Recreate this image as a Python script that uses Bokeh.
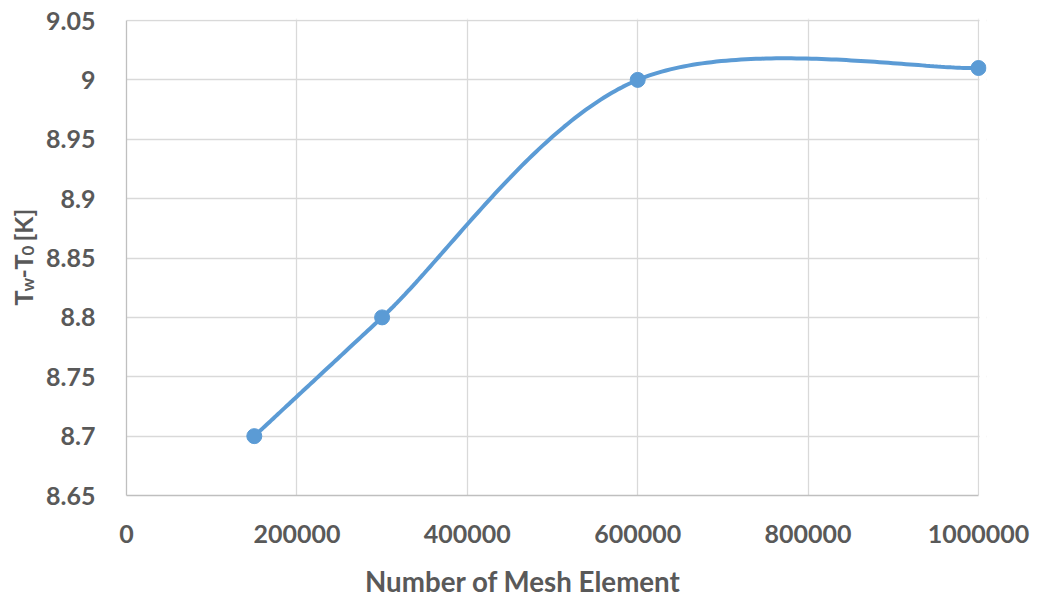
import math
import numpy as np
from bokeh.plotting import figure
from bokeh.layouts import row, column
from bokeh.models import (Range1d, FixedTicker, NumeralTickFormatter,
                          CustomJSTickFormatter, BoxAnnotation,
                          ColumnDataSource)
from bokeh.core.properties import value
from bokeh.embed import file_html
from bokeh.resources import INLINE

# Mesh independence study: wall-to-inlet temperature rise vs mesh size
mesh_elements = [150000, 300000, 600000, 1000000]
temp_rise = [8.70, 8.80, 9.00, 9.01]

x_ticks = [0, 200000, 400000, 600000, 800000, 1000000]
y_ticks = [8.65, 8.70, 8.75, 8.80, 8.85, 8.90, 8.95, 9.00, 9.05]

x_title = "Number of Mesh Element"
# y title pieces: text, subscript?, offset along the title (px)
y_title_text = ["T", "w", "-", "T", "0", "[K]"]
y_title_sub = [False, True, False, False, True, False]
y_title_offset = [0, 14, 27, 36, 50, 64]

X_START, X_END = 0, 1000000
Y_START, Y_END = 8.65, 9.05

TOTAL_W, TOTAL_H = 1041, 598
SIDE_W = 42                      # strip holding the rotated y title
BOTTOM_H = 40                    # strip holding the x title
PLOT_W_PX, PLOT_H_PX = 852, 475  # pixel size of the 0..1e6 x 8.65..9.05 box
PAD_R, PAD_T = 8, 2              # spare room so the last marker is not clipped
FRAME_LEFT, FRAME_TOP, FRAME_BOTTOM = 126, 20 - PAD_T, 495
MAIN_W = TOTAL_W - SIDE_W
MAIN_H = TOTAL_H - BOTTOM_H
BORDER_L = FRAME_LEFT - SIDE_W
BORDER_R = MAIN_W - BORDER_L - PLOT_W_PX - PAD_R

X_VIEW_END = X_END + (X_END - X_START) * PAD_R / PLOT_W_PX
Y_VIEW_END = Y_END + (Y_END - Y_START) * PAD_T / PLOT_H_PX

TEXT = "#595959"
GRID = "#d9d9d9"
AXIS = "#bfbfbf"
BLUE = "#5b9bd5"
FONT = "Lato"


def smooth_curve(xs, ys, n=80):
    """Bezier smoothing done in screen space (tangent = (next - prev) / 6,
    arm capped at half the segment), mapped back to data units."""
    sx = [(x - X_START) / (X_END - X_START) * PLOT_W_PX for x in xs]
    sy = [(y - Y_START) / (Y_END - Y_START) * PLOT_H_PX for y in ys]
    pts = np.array(list(zip(sx, sy)), dtype=float)
    k = len(pts)
    out = []
    for i in range(k - 1):
        p0 = pts[max(i - 1, 0)]
        p1 = pts[i]
        p2 = pts[i + 1]
        p3 = pts[min(i + 2, k - 1)]
        seg = np.linalg.norm(p2 - p1)
        arms = []
        for t in ((p2 - p0) / 6.0, (p3 - p1) / 6.0):
            L = np.linalg.norm(t)
            if L > seg / 2:
                t = t * (seg / 2) / L
            arms.append(t)
        c1 = p1 + arms[0]
        c2 = p2 - arms[1]
        t = np.linspace(0, 1, n)[:, None]
        b = ((1 - t) ** 3) * p1 + 3 * ((1 - t) ** 2) * t * c1 \
            + 3 * (1 - t) * t ** 2 * c2 + t ** 3 * p2
        if i > 0:
            b = b[1:]
        out.append(b)
    curve = np.vstack(out)
    cx = X_START + curve[:, 0] / PLOT_W_PX * (X_END - X_START)
    cy = Y_START + curve[:, 1] / PLOT_H_PX * (Y_END - Y_START)
    return cx, cy


def strip(width, height, **kw):
    f = figure(width=width, height=height, output_backend="svg",
               toolbar_location=None, x_axis_location=None,
               y_axis_location=None, **kw)
    f.grid.visible = False
    f.outline_line_color = None
    f.background_fill_color = "white"
    f.border_fill_color = "white"
    return f


# ---- main chart ----
p = figure(width=MAIN_W, height=MAIN_H, output_backend="svg",
           toolbar_location=None,
           x_range=Range1d(X_START, X_VIEW_END),
           y_range=Range1d(Y_START, Y_VIEW_END),
           min_border_left=BORDER_L, min_border_right=BORDER_R,
           min_border_top=FRAME_TOP, min_border_bottom=MAIN_H - FRAME_BOTTOM)
p.outline_line_color = None
p.background_fill_color = "white"
p.border_fill_color = "white"

p.xgrid.ticker = FixedTicker(ticks=x_ticks)
p.ygrid.ticker = FixedTicker(ticks=y_ticks)
for g in (p.xgrid, p.ygrid):
    g.grid_line_color = GRID
    g.grid_line_width = 1.3

# keep the grid inside the 0..1e6 x 8.65..9.05 box
eps_x = (X_END - X_START) * 1.0 / PLOT_W_PX
eps_y = (Y_END - Y_START) * 1.0 / PLOT_H_PX
p.add_layout(BoxAnnotation(left=X_END + eps_x, fill_color="white",
                           fill_alpha=1, line_color=None, level="underlay"))
p.add_layout(BoxAnnotation(bottom=Y_END + eps_y, fill_color="white",
                           fill_alpha=1, line_color=None, level="underlay"))

p.xaxis.ticker = FixedTicker(ticks=x_ticks)
p.yaxis.ticker = FixedTicker(ticks=y_ticks)
p.xaxis.formatter = NumeralTickFormatter(format="0")
p.yaxis.formatter = CustomJSTickFormatter(
    code="return String(Number(tick.toFixed(2)));")
p.xaxis.bounds = (X_START, X_END)
p.yaxis.bounds = (Y_START, Y_END)
for ax in (p.xaxis, p.yaxis):
    ax.axis_line_color = AXIS
    ax.axis_line_width = 1.3
    ax.major_tick_line_color = None
    ax.minor_tick_line_color = None
    ax.major_tick_out = 0
    ax.major_tick_in = 0
    ax.major_label_text_font = FONT
    ax.major_label_text_font_style = "bold"
    ax.major_label_text_font_size = "25px"
    ax.major_label_text_color = TEXT
p.yaxis.major_label_standoff = 31
p.xaxis.major_label_standoff = 29

cx, cy = smooth_curve(mesh_elements, temp_rise)
p.line(cx, cy, line_color=BLUE, line_width=4)
p.scatter(mesh_elements, temp_rise, size=15, marker="circle",
          fill_color=BLUE, line_color=BLUE)

# ---- x title strip (shares the x scale of the chart) ----
bottom = strip(MAIN_W, BOTTOM_H, x_range=p.x_range,
               y_range=Range1d(0, BOTTOM_H), min_border_left=BORDER_L,
               min_border_right=BORDER_R, min_border_top=0,
               min_border_bottom=0)
title_center_x = X_START + (522.5 - FRAME_LEFT) / PLOT_W_PX * (X_END - X_START)
bottom.text(x=[title_center_x], y=[17], text=[x_title],
            text_font=value(FONT), text_font_style="bold",
            text_font_size="27.7px", text_color=TEXT,
            text_align="center", text_baseline="alphabetic")

# ---- rotated y title strip (pixel units, y upward from page bottom) ----
start_y = TOTAL_H - 305
main_src = ColumnDataSource(dict(
    x=[22 for s in y_title_sub if not s],
    y=[start_y + o for o, s in zip(y_title_offset, y_title_sub) if not s],
    text=[t for t, s in zip(y_title_text, y_title_sub) if not s]))
sub_src = ColumnDataSource(dict(
    x=[27 for s in y_title_sub if s],
    y=[start_y + o for o, s in zip(y_title_offset, y_title_sub) if s],
    text=[t for t, s in zip(y_title_text, y_title_sub) if s]))

side = strip(SIDE_W, TOTAL_H, x_range=Range1d(0, SIDE_W),
             y_range=Range1d(TOTAL_H - FRAME_BOTTOM, TOTAL_H - FRAME_TOP),
             min_border_left=0, min_border_right=0,
             min_border_top=FRAME_TOP,
             min_border_bottom=TOTAL_H - FRAME_BOTTOM)
for src, size in ((main_src, "25px"), (sub_src, "17px")):
    side.text(x="x", y="y", text="text", source=src, angle=math.pi / 2,
              text_font=value(FONT), text_font_style="bold",
              text_font_size=size, text_color=TEXT,
              text_align="left", text_baseline="alphabetic")

layout = row(side, column(p, bottom, spacing=0), spacing=0)
open("out.html", "w").write(file_html(layout, INLINE))
